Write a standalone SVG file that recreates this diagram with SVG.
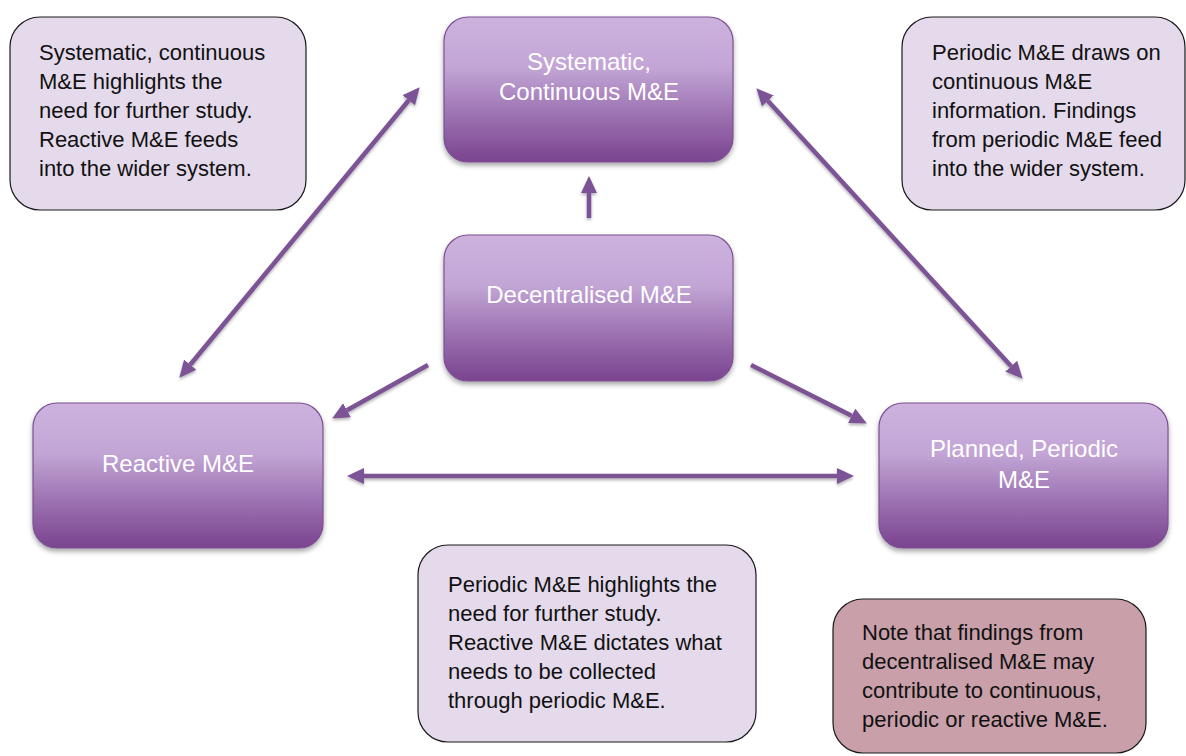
<svg xmlns="http://www.w3.org/2000/svg" width="1186" height="756" viewBox="0 0 1186 756">
<defs>
<linearGradient id="nodeGrad" x1="0" y1="0" x2="0" y2="1">
<stop offset="0" stop-color="#cdb2de"/>
<stop offset="0.35" stop-color="#c2a5d5"/>
<stop offset="0.65" stop-color="#9f76b4"/>
<stop offset="1" stop-color="#7a438f"/>
</linearGradient>
<filter id="shadow" x="-10%" y="-10%" width="120%" height="130%">
<feDropShadow dx="0" dy="3" stdDeviation="2.5" flood-color="#000" flood-opacity="0.35"/>
</filter>
<filter id="ashadow" x="-10%" y="-10%" width="120%" height="130%">
<feDropShadow dx="0" dy="2" stdDeviation="1.5" flood-color="#000" flood-opacity="0.3"/>
</filter>
<marker id="head" markerUnits="userSpaceOnUse" markerWidth="18" markerHeight="16" refX="0" refY="8" orient="auto-start-reverse" viewBox="0 0 18 16">
<path d="M0,0 L17,8 L0,16 z" fill="#7b5294"/>
</marker>
</defs>
<style>
.node rect{fill:url(#nodeGrad);stroke:#7c5193;stroke-width:1.2;filter:url(#shadow)}
.node text{font-family:"Liberation Sans",Arial,sans-serif;font-size:24px;fill:#ffffff;text-anchor:middle}
.note rect{fill:#e5daeb;stroke:#1a1a1a;stroke-width:1.2}
.note text{font-family:"Liberation Sans",Arial,sans-serif;font-size:22px;fill:#111111}
#note4 rect{fill:#c9a0aa}
.conn line{stroke:#7b5294;stroke-width:4.5;fill:none}
</style>
<rect width="1186" height="756" fill="#ffffff"/>

<g id="connectors" class="conn" filter="url(#ashadow)">
<line x1="190.2" y1="364.7" x2="408.8" y2="100.3" marker-start="url(#head)" marker-end="url(#head)"/>
<line x1="767.8" y1="100.8" x2="1011.2" y2="366.2" marker-start="url(#head)" marker-end="url(#head)"/>
<line x1="589" y1="218" x2="589" y2="193" marker-end="url(#head)"/>
<line x1="428" y1="365" x2="347" y2="410.2" marker-end="url(#head)"/>
<line x1="751" y1="365" x2="851.7" y2="415.8" marker-end="url(#head)"/>
<line x1="364" y1="476" x2="837" y2="476" marker-start="url(#head)" marker-end="url(#head)"/>
</g>

<g id="note1" class="note">
<rect x="10" y="17" width="296" height="193" rx="30"/>
<text x="39" y="60">Systematic, continuous</text>
<text x="39" y="89">M&amp;E highlights the</text>
<text x="39" y="118">need for further study.</text>
<text x="39" y="147">Reactive M&amp;E feeds</text>
<text x="39" y="176">into the wider system.</text>
</g>

<g id="note2" class="note">
<rect x="902" y="17" width="283" height="193" rx="30"/>
<text x="932" y="60">Periodic M&amp;E draws on</text>
<text x="932" y="89">continuous M&amp;E</text>
<text x="932" y="118">information. Findings</text>
<text x="932" y="147">from periodic M&amp;E feed</text>
<text x="932" y="176">into the wider system.</text>
</g>

<g id="note3" class="note">
<rect x="418" y="545" width="338" height="197" rx="30"/>
<text x="448" y="592">Periodic M&amp;E highlights the</text>
<text x="448" y="621">need for further study.</text>
<text x="448" y="650">Reactive M&amp;E dictates what</text>
<text x="448" y="679">needs to be collected</text>
<text x="448" y="708">through periodic M&amp;E.</text>
</g>

<g id="note4" class="note">
<rect x="833" y="599" width="313" height="154" rx="30"/>
<text x="862" y="640">Note that findings from</text>
<text x="862" y="669">decentralised M&amp;E may</text>
<text x="862" y="698">contribute to continuous,</text>
<text x="862" y="727">periodic or reactive M&amp;E.</text>
</g>

<g id="systematic" class="node">
<rect x="444" y="17" width="289" height="145" rx="24"/>
<text x="589" y="70">Systematic,</text>
<text x="589" y="100">Continuous M&amp;E</text>
</g>

<g id="decentralised" class="node">
<rect x="444" y="235" width="289" height="146" rx="24"/>
<text x="589" y="303">Decentralised M&amp;E</text>
</g>

<g id="reactive" class="node">
<rect x="33" y="403" width="290" height="145" rx="24"/>
<text x="178" y="472">Reactive M&amp;E</text>
</g>

<g id="planned" class="node">
<rect x="879" y="403" width="289" height="145" rx="24"/>
<text x="1024" y="457">Planned, Periodic</text>
<text x="1024" y="488">M&amp;E</text>
</g>
</svg>
